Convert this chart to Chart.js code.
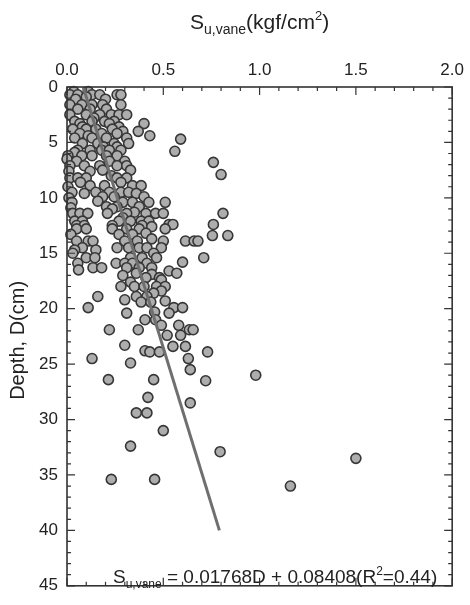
<!DOCTYPE html>
<html>
<head>
<meta charset="utf-8">
<script src="https://cdn.jsdelivr.net/npm/chart.js@4.4.1/dist/chart.umd.min.js"></script>
<style>
  body { margin: 0; background: #fff; }
</style>
</head>
<body>
<canvas id="vaneChart" width="470" height="605"></canvas>
<script>
// depth of each row of readings (cm) and the vane strengths read at that depth (kgf/cm2)
const depthRows = [
  0.4, 0.7, 0.9, 1.1, 1.6, 2.0, 2.5, 2.8, 3.1, 3.3, 3.6, 3.8, 4.0, 4.2, 4.4, 4.6, 4.7, 5.1, 5.4, 5.7,
  5.8, 5.9, 6.2, 6.5, 6.7, 6.8, 7.1, 7.5, 7.6, 7.9, 8.0, 8.2, 8.6, 8.9, 9.0, 9.5, 9.6, 9.9, 10.0, 10.3,
  10.4, 10.8, 10.9, 11.0, 11.3, 11.4, 11.8, 12.1, 12.4, 12.5, 12.6, 12.8, 13.2, 13.3, 13.4, 13.7, 13.9, 14.5, 14.7, 15.0,
  15.4, 15.8, 15.9, 16.3, 16.5, 16.6, 16.8, 16.9, 17.0, 17.2, 17.4, 17.6, 18.0, 18.4, 18.6, 18.9, 19.2, 19.3, 19.4, 19.9,
  20.3, 20.4, 21.0, 21.5, 21.9, 22.4, 23.3, 23.4, 23.8, 23.9, 24.5, 24.9, 25.5, 26.0, 26.4, 26.5, 28.0, 28.5, 29.4, 31.0,
  32.4, 32.9, 33.5, 35.4, 36.0
];
const suRows = [
  [0.035, 0.11], [0.015, 0.056, 0.13, 0.17, 0.26, 0.28], [0.10], [0.045, 0.20],
  [0.015, 0.077, 0.13, 0.185, 0.28], [0.056, 0.12, 0.205], [0.015, 0.10, 0.17, 0.23, 0.27, 0.31], [0.14],
  [0.04, 0.13, 0.195, 0.245], [0.067, 0.22, 0.40], [0.08, 0.27], [0.03, 0.10, 0.15, 0.235],
  [0.29, 0.37], [0.067, 0.18, 0.26], [0.11, 0.43], [0.04, 0.13, 0.205, 0.31], [0.59],
  [0.08, 0.16, 0.245, 0.32], [0.19, 0.26], [0.056, 0.12, 0.18, 0.22, 0.28],
  [0.56], [0.04], [0.005, 0.077, 0.13, 0.205, 0.26], [0.0], [0.05, 0.22, 0.30], [0.76],
  [0.015, 0.09, 0.17, 0.26, 0.31], [0.185, 0.33], [0.01, 0.12], [0.80], [0.23],
  [0.015, 0.056, 0.10, 0.26, 0.31], [0.07, 0.28], [0.12, 0.195, 0.34, 0.385], [0.005],
  [0.026, 0.15, 0.22, 0.28, 0.32], [0.09, 0.36], [0.185, 0.245, 0.40], [0.01], [0.16],
  [0.026, 0.29, 0.34, 0.425, 0.51], [0.205, 0.26, 0.375], [0.02], [0.235], [0.35],
  [0.03, 0.067, 0.108, 0.21, 0.31, 0.41, 0.46, 0.50, 0.81], [0.29], [0.04, 0.08, 0.27, 0.33, 0.385, 0.425],
  [0.53, 0.55, 0.76], [0.05, 0.09, 0.235, 0.39], [0.44], [0.05, 0.10, 0.235, 0.31, 0.375, 0.51],
  [0.41], [0.02, 0.27, 0.34], [0.755, 0.835], [0.44], [0.05, 0.11, 0.135, 0.30, 0.365, 0.50, 0.615, 0.66, 0.68],
  [0.08, 0.26, 0.32, 0.375, 0.415, 0.49], [0.04, 0.15], [0.03, 0.45],
  [0.10, 0.145, 0.33, 0.39, 0.465, 0.71], [0.60], [0.056, 0.255, 0.30, 0.34, 0.415], [0.135, 0.18, 0.31, 0.375, 0.44],
  [0.06], [0.53], [0.36, 0.57], [0.44], [0.29], [0.41, 0.48], [0.49], [0.33],
  [0.28, 0.35, 0.40, 0.465, 0.51], [0.49], [0.45], [0.16, 0.36, 0.415], [0.30], [0.51], [0.385, 0.435],
  [0.11, 0.555, 0.60],
  [0.455], [0.31, 0.53], [0.405, 0.46], [0.49, 0.58], [0.22, 0.37, 0.635, 0.655], [0.52, 0.59], [0.30],
  [0.55, 0.615], [0.405], [0.43, 0.48, 0.73], [0.13, 0.63], [0.33], [0.64], [0.98], [0.215, 0.45], [0.72],
  [0.42], [0.64], [0.36, 0.415], [0.50],
  [0.33], [0.795], [1.50], [0.23, 0.455], [1.16]
];
// regression S = 0.01768D + 0.08408, drawn from D = 0 to 40
const fitDepth = [0, 40];
const fitSu = [0.08408, 0.79128];

const FONT = "'Liberation Sans', Arial, sans-serif";

const points = [];
depthRows.forEach((d, i) => {
  suRows[i].forEach(s => points.push({ x: s, y: d }));
});
const fitLine = fitDepth.map((d, i) => ({ x: fitSu[i], y: d }));

// draw text pieces with sub/superscripts
function drawRich(ctx, parts, x, y, align) {
  let total = 0;
  parts.forEach(p => {
    ctx.font = p.size + 'px ' + FONT;
    p.w = ctx.measureText(p.t).width;
    total += p.w;
  });
  let cx = align === 'center' ? x - total / 2 : x;
  parts.forEach(p => {
    ctx.font = p.size + 'px ' + FONT;
    ctx.fillText(p.t, cx, y + (p.dy || 0));
    cx += p.w;
  });
}

const frameTicks = {
  id: 'frameTicks',
  afterDraw(chart) {
    const { ctx, chartArea: a, scales: { x, y } } = chart;
    ctx.save();
    ctx.strokeStyle = '#333';
    ctx.lineWidth = 1.6;
    ctx.strokeRect(a.left, a.top, a.right - a.left, a.bottom - a.top);
    ctx.lineWidth = 1.2;
    ctx.beginPath();
    for (let i = 0; i <= 20; i++) {
      const px = x.getPixelForValue(i / 10);
      const len = i % 5 === 0 ? 8 : 4;
      ctx.moveTo(px, a.top); ctx.lineTo(px, a.top + len);
      ctx.moveTo(px, a.bottom); ctx.lineTo(px, a.bottom - len);
    }
    for (let d = 0; d <= 45; d++) {
      const py = y.getPixelForValue(d);
      const len = d % 5 === 0 ? 8 : 4;
      ctx.moveTo(a.left, py); ctx.lineTo(a.left + len, py);
      ctx.moveTo(a.right, py); ctx.lineTo(a.right - len, py);
    }
    ctx.stroke();

    // titles and fit equation
    ctx.fillStyle = '#222';
    ctx.textBaseline = 'alphabetic';
    ctx.textAlign = 'left';
    drawRich(ctx, [
      { t: 'S', size: 21 },
      { t: 'u,vane', size: 14, dy: 5 },
      { t: '(kgf/cm', size: 21 },
      { t: '2', size: 13, dy: -9 },
      { t: ')', size: 21 }
    ], (a.left + a.right) / 2, 29, 'center');

    drawRich(ctx, [
      { t: 'S', size: 19 },
      { t: 'u,vane', size: 12, dy: 5 },
      { t: ' = 0.01768D + 0.08408(R', size: 19 },
      { t: '2', size: 12, dy: -8 },
      { t: '=0.44)', size: 19 }
    ], 113, 583, 'left');

    ctx.save();
    ctx.translate(18, (a.top + a.bottom) / 2 + 4);
    ctx.rotate(-Math.PI / 2);
    ctx.textAlign = 'center';
    ctx.textBaseline = 'middle';
    ctx.font = '20px ' + FONT;
    ctx.fillText('Depth, D(cm)', 0, 0);
    ctx.restore();
    ctx.restore();
  }
};

new Chart(document.getElementById('vaneChart'), {
  type: 'scatter',
  data: {
    datasets: [
      {
        type: 'line',
        data: fitLine,
        borderColor: '#6f6f6f',
        borderWidth: 3,
        pointRadius: 0,
        fill: false,
        clip: false,
        order: 0
      },
      {
        data: points,
        backgroundColor: '#adadad',
        borderColor: '#363636',
        borderWidth: 1.6,
        pointRadius: 5,
        clip: false,
        order: 1
      }
    ]
  },
  options: {
    responsive: false,
    animation: false,
    layout: { padding: { top: 0, left: 0, right: 13, bottom: 5 } },
    plugins: { legend: { display: false }, tooltip: { enabled: false } },
    scales: {
      x: {
        type: 'linear',
        position: 'top',
        min: 0, max: 2,
        grid: { display: false, drawTicks: false },
        border: { display: false },
        afterFit: s => { s.height = 87; },
        ticks: {
          stepSize: 0.5,
          padding: 6,
          color: '#222',
          font: { family: FONT, size: 17 },
          callback: v => v.toFixed(1)
        }
      },
      y: {
        type: 'linear',
        reverse: true,
        min: 0, max: 45,
        grid: { display: false, drawTicks: false },
        border: { display: false },
        afterFit: s => { s.width = 67; },
        ticks: {
          stepSize: 5,
          padding: 9,
          color: '#222',
          font: { family: FONT, size: 17 }
        }
      }
    }
  },
  plugins: [frameTicks]
});
</script>
</body>
</html>
